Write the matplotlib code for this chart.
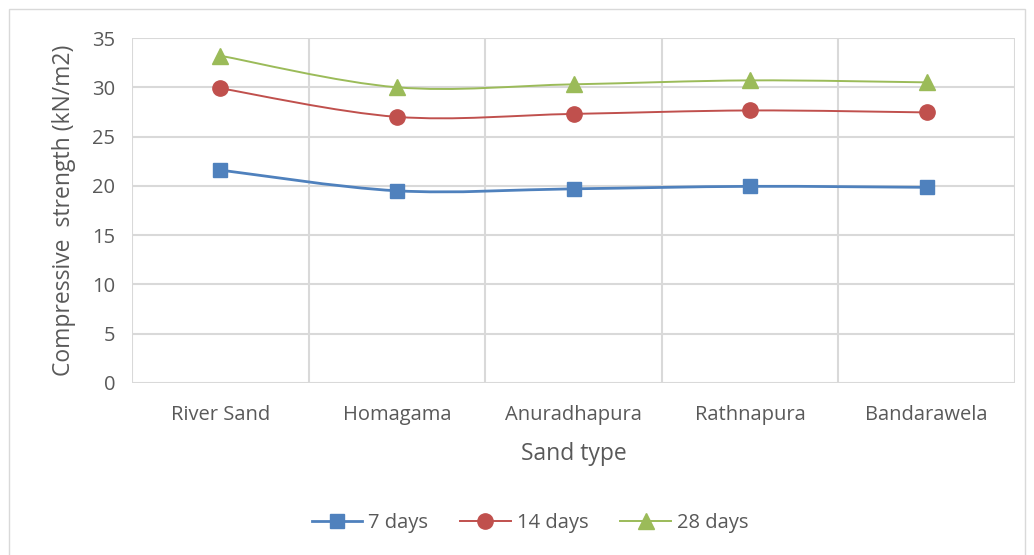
import matplotlib
matplotlib.use("Agg")
import matplotlib.pyplot as plt
import numpy as np
from matplotlib.path import Path
from matplotlib.patches import PathPatch, Rectangle
from matplotlib.lines import Line2D

categories = ["River Sand", "Homagama", "Anuradhapura", "Rathnapura", "Bandarawela"]
days7 = [21.6, 19.5, 19.7, 19.95, 19.85]
days14 = [29.9, 27.0, 27.3, 27.65, 27.45]
days28 = [33.2, 30.0, 30.3, 30.7, 30.5]
series_names = ["7 days", "14 days", "28 days"]
y_ticks = [0, 5, 10, 15, 20, 25, 30, 35]

plt.rcParams['font.family'] = ['Open Sans', 'DejaVu Sans']

fig = plt.figure(figsize=(10.34, 5.55), dpi=100)
ax = fig.add_axes([132/1034, 1-383/555, (1015-132)/1034, (383-38)/555])

fig.patches.append(Rectangle((9/1034, -0.01), (1025-9)/1034, 1-9/555+0.01,
                             transform=fig.transFigure, fill=False,
                             edgecolor="#d9d9d9", linewidth=1.0))

def smooth_path(xs, ys):
    xs = np.asarray(xs, float); ys = np.asarray(ys, float)
    n = len(xs)
    verts = [(xs[0], ys[0])]
    codes = [Path.MOVETO]
    for i in range(n - 1):
        p0 = np.array([xs[max(i-1, 0)], ys[max(i-1, 0)]])
        p1 = np.array([xs[i], ys[i]])
        p2 = np.array([xs[i+1], ys[i+1]])
        p3 = np.array([xs[min(i+2, n-1)], ys[min(i+2, n-1)]])
        c1 = p1 + (p2 - p0) / 6.0
        c2 = p2 - (p3 - p1) / 6.0
        verts += [tuple(c1), tuple(c2), tuple(p2)]
        codes += [Path.CURVE4] * 3
    return Path(verts, codes)

x = np.arange(len(categories))
styles = [
    (days7, "#4f81bd", "s", 2.0, 10.5),
    (days14, "#c0504d", "o", 1.4, 11),
    (days28, "#9bbb59", "^", 1.4, 11),
]
handles = []
for (vals, col, mk, lw, ms), name in zip(styles, series_names):
    ax.add_patch(PathPatch(smooth_path(x, vals), facecolor="none",
                           edgecolor=col, linewidth=lw, zorder=3))
    ax.plot(x, vals, linestyle="none", marker=mk, markersize=ms,
            color=col, markeredgecolor=col, zorder=4)
    handles.append(Line2D([], [], color=col, linewidth=lw, marker=mk,
                          markersize=ms, label=name))

ax.set_xlim(-0.5, len(categories) - 0.5)
ax.set_ylim(0, 35)
ax.set_yticks(y_ticks)
ax.set_xticks(x)
ax.set_xticklabels(categories)
ax.set_xticks(np.arange(-0.5, len(categories) + 0.5, 1.0), minor=True)
ax.grid(True, which="major", axis="y", color="#d9d9d9", linewidth=1.5)
ax.grid(True, which="minor", axis="x", color="#d9d9d9", linewidth=1.5)
ax.set_axisbelow(True)
for s in ax.spines.values():
    s.set_visible(False)
ax.tick_params(which="both", length=0)
ax.tick_params(axis="y", pad=12, labelsize=14.5, labelcolor="#595959")
ax.tick_params(axis="x", pad=16, labelsize=14.5, labelcolor="#595959")

ax.set_xlabel("Sand type", fontsize=16.5, color="#595959", labelpad=12)
ax.set_ylabel("Compressive  strength (kN/m2)", fontsize=16.5, color="#595959", labelpad=12)

fig.legend(handles=handles, loc="center", bbox_to_anchor=(530/1034, 1-523/555),
           ncol=3, frameon=False, fontsize=14.5, labelcolor="#595959",
           handlelength=2.5, columnspacing=1.6, handletextpad=0.3)

fig.savefig("out.png", dpi=100, facecolor="white")
